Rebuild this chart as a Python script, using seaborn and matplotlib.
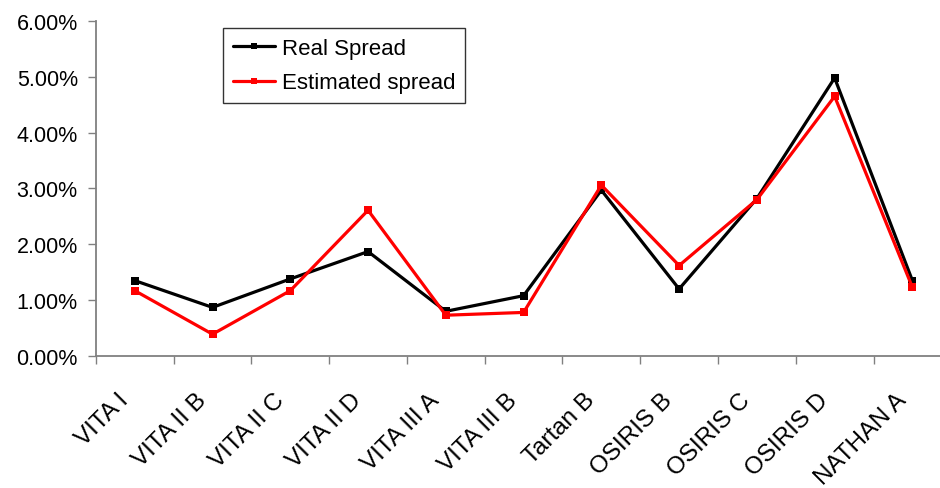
import numpy as np
import pandas as pd
import matplotlib
matplotlib.use("Agg")
import matplotlib.pyplot as plt
import matplotlib.transforms as mtransforms
import seaborn as sns
from matplotlib.ticker import FuncFormatter, FixedLocator

categories = ["VITA I", "VITA II B", "VITA II C", "VITA II D", "VITA III A", "VITA III B",
              "Tartan B", "OSIRIS B", "OSIRIS C", "OSIRIS D", "NATHAN A"]
real_spread = [1.35, 0.87, 1.38, 1.87, 0.80, 1.08, 2.97, 1.20, 2.82, 4.98, 1.35]
estimated_spread = [1.17, 0.39, 1.17, 2.61, 0.73, 0.78, 3.06, 1.62, 2.80, 4.65, 1.23]
y_ticks = [0, 1, 2, 3, 4, 5, 6]

sns.set_style("white")
plt.rcParams['font.family'] = ['Liberation Sans', 'DejaVu Sans']
plt.rcParams['text.color'] = 'black'
plt.rcParams['xtick.labelcolor'] = 'black'
plt.rcParams['ytick.labelcolor'] = 'black'

fig = plt.figure(figsize=(9.4, 4.89), dpi=100)
ax = fig.add_axes([0.102, 0.27, 0.91, 0.685])

x = np.arange(len(categories))
df = pd.DataFrame({"x": np.concatenate([x, x]),
                   "y": real_spread + estimated_spread,
                   "series": ["Real Spread"] * len(x) + ["Estimated spread"] * len(x)})
sns.lineplot(data=df, x="x", y="y", hue="series",
             palette={"Real Spread": "black", "Estimated spread": "#ff0000"},
             marker="s", markersize=6, markeredgewidth=0, linewidth=2.3, ax=ax)

ax.set_xlim(-0.5, len(categories) - 0.5)
ax.set_ylim(0, 6)
ax.set_yticks(y_ticks)
ax.yaxis.set_major_formatter(FuncFormatter(lambda v, p: f"{v:.2f}%"))
ax.xaxis.set_minor_locator(FixedLocator(np.arange(-0.5, len(categories), 1.0)))
ax.tick_params(axis="x", which="major", length=0, pad=29, labelcolor="black")
ax.tick_params(axis="x", which="minor", length=6, width=1, color="#808080", direction="out", bottom=True)
ax.tick_params(axis="y", length=6, width=1, color="#808080", direction="out", left=True,
               labelsize=15.5, pad=7, labelcolor="black")
ax.set_xticks(x)
ax.set_xticklabels(categories, rotation=45, ha="right", va="center",
                   rotation_mode="anchor", fontsize=17.5, color="black")
offset = mtransforms.ScaledTranslation(-7 / 72, 0, fig.dpi_scale_trans)
for lab in ax.get_xticklabels():
    lab.set_transform(lab.get_transform() + offset)
ax.set_xlabel("")
ax.set_ylabel("")

for s in ["top", "right"]:
    ax.spines[s].set_visible(False)
for s in ["left", "bottom"]:
    ax.spines[s].set_color("#808080")
    ax.spines[s].set_linewidth(1.3)

leg = ax.legend(loc="upper left", bbox_to_anchor=(0.1485, 0.979), fontsize=16, frameon=True,
                fancybox=False, edgecolor="black", handlelength=1.9, handletextpad=0.3,
                borderpad=0.45, labelspacing=0.6, borderaxespad=0, labelcolor="black")
leg.get_frame().set_linewidth(1.0)
for h in leg.legend_handles:
    h.set_markersize(5)
    h.set_linewidth(2.3)

fig.savefig("out.png", dpi=100)
